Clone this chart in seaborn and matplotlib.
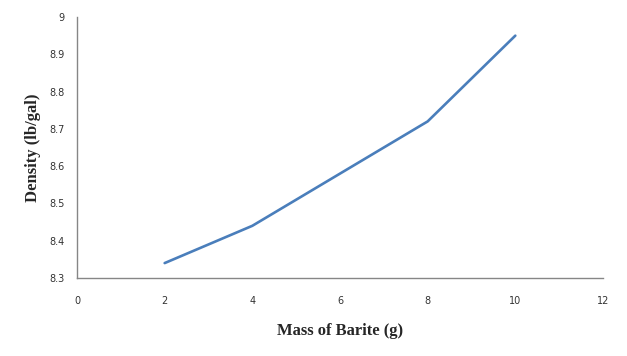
import matplotlib
matplotlib.use("Agg")
import matplotlib.pyplot as plt
import seaborn as sns
import pandas as pd

mass = [2, 4, 6, 8, 10]
density = [8.34, 8.44, 8.58, 8.72, 8.95]
x_ticks = [0, 2, 4, 6, 8, 10, 12]
y_ticks = [8.3, 8.4, 8.5, 8.6, 8.7, 8.8, 8.9, 9]
y_tick_labels = ["8.3", "8.4", "8.5", "8.6", "8.7", "8.8", "8.9", "9"]

sns.set_style("white")
df = pd.DataFrame({"mass": mass, "density": density})

fig = plt.figure(figsize=(6.27, 3.56), dpi=100)
ax = fig.add_axes([0.1228, 0.2191, 0.8389, 0.7331])
sns.lineplot(data=df, x="mass", y="density", ax=ax, color="#4a7ebb", linewidth=1.9)
for ln in ax.lines:
    ln.set_solid_joinstyle("round")
    ln.set_solid_capstyle("round")

ax.set_xlim(0, 12)
ax.set_ylim(8.3, 9)
ax.set_xticks(x_ticks)
ax.set_yticks(y_ticks)
ax.set_yticklabels(y_tick_labels)
for s in ["top", "right"]:
    ax.spines[s].set_visible(False)
for s in ["left", "bottom"]:
    ax.spines[s].set_color("#868686")
    ax.spines[s].set_linewidth(1.0)
ax.tick_params(axis="both", length=0, labelsize=7, labelcolor="#333333")
ax.tick_params(axis="y", pad=9)
ax.tick_params(axis="x", pad=13)
for lab in ax.get_xticklabels() + ax.get_yticklabels():
    lab.set_family("DejaVu Sans")

ax.set_xlabel("Mass of Barite (g)", fontfamily="Liberation Serif", fontsize=12,
              fontweight="bold", labelpad=12)
ax.set_ylabel("Density (lb/gal)", fontfamily="Liberation Serif", fontsize=12,
              fontweight="bold", labelpad=6)
ax.grid(False)
fig.savefig("out.png", dpi=100)
